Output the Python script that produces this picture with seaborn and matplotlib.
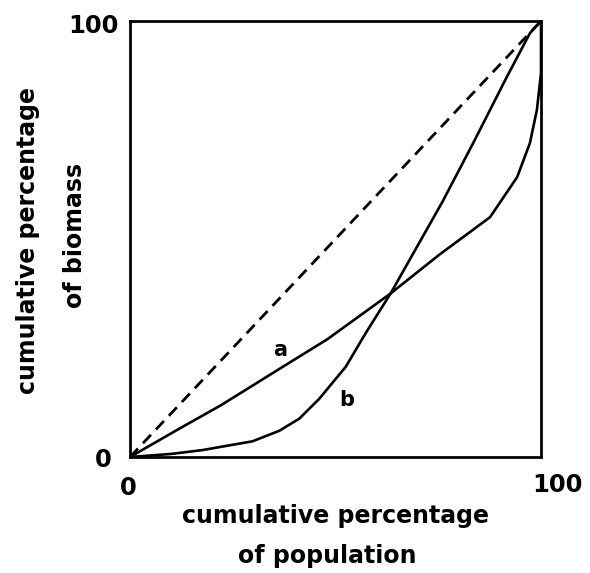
import matplotlib
matplotlib.use("Agg")
import matplotlib.pyplot as plt
import pandas as pd
import seaborn as sns

# ---- data ----
equality_x = [0, 100]
equality_y = [0, 100]

curve_a_x = [0, 12, 22, 36, 48, 63.4, 75.4, 87.6, 94.2, 97.3, 99.0, 100, 100]
curve_a_y = [0, 6.5, 11.8, 20, 27, 37.5, 46.5, 55, 64.2, 72, 79.6, 88, 100]

curve_b_x = [0, 10, 17.7, 29.8, 36.3, 41.2, 46, 52.5, 57.4, 63.4, 76, 83.5, 91.7, 97.3, 100]
curve_b_y = [0, 0.7, 1.6, 3.6, 6.0, 8.8, 13.3, 20.7, 28.5, 37.5, 58.5, 72, 87.2, 97.2, 100]

curve_labels = ["a", "b"]
label_pos_x = [36.5, 52.8]
label_pos_y = [24.5, 13.1]

x_tick_labels = ["0", "100"]
y_tick_labels = ["0", "100"]
x_title = ["cumulative percentage", "of population"]
y_title = ["cumulative percentage", "of biomass"]

sns.set_theme(style="white")
plt.rcParams['font.family'] = ['DejaVu Sans']
plt.rcParams['text.color'] = 'black'

W, H = 590, 573
fig = plt.figure(figsize=(W / 100, H / 100), dpi=100)
ax = fig.add_axes([130 / W, 1 - 457 / H, 411 / W, 436 / H])

df_eq = pd.DataFrame({"x": equality_x, "y": equality_y})
df_a = pd.DataFrame({"x": curve_a_x, "y": curve_a_y})
df_b = pd.DataFrame({"x": curve_b_x, "y": curve_b_y})

sns.lineplot(data=df_eq, x="x", y="y", ax=ax, color="black", lw=2.0,
             estimator=None, sort=False)
ax.lines[-1].set_dashes((4.2, 2.6))
sns.lineplot(data=df_a, x="x", y="y", ax=ax, color="black", lw=1.9,
             estimator=None, sort=False)
sns.lineplot(data=df_b, x="x", y="y", ax=ax, color="black", lw=1.9,
             estimator=None, sort=False)
for ln in ax.lines:
    ln.set_solid_joinstyle("round")
    ln.set_solid_capstyle("round")

for lab, lx, ly in zip(curve_labels, label_pos_x, label_pos_y):
    ax.text(lx, ly, lab, fontsize=15, fontweight="heavy", color="black",
            ha="center", va="center")

ax.set_xlim(0, 100)
ax.set_ylim(0, 100)
ax.set_xticks([])
ax.set_yticks([])
ax.set_xlabel("")
ax.set_ylabel("")
for sp in ax.spines.values():
    sp.set_visible(True)
    sp.set_color("black")
    sp.set_linewidth(2.0)


def px(x, y):
    return x / W, 1 - y / H


num_kw = dict(fontsize=17.5, fontweight="heavy", color="black", ha="center", va="center")
fig.text(*px(103, 460), y_tick_labels[0], **num_kw)
fig.text(*px(93, 26), y_tick_labels[1], **num_kw)
fig.text(*px(128, 488), x_tick_labels[0], **num_kw)
fig.text(*px(557, 485), x_tick_labels[1], **num_kw)

lab_kw = dict(fontsize=17, fontweight="heavy", color="black", ha="center")
fig.text(*px(335, 523), x_title[0], va="baseline", **lab_kw)
fig.text(*px(327, 563), x_title[1], va="baseline", **lab_kw)
fig.text(*px(28, 241), y_title[0], va="center", rotation=90, **lab_kw)
fig.text(*px(75, 235), y_title[1], va="center", rotation=90, **lab_kw)

fig.savefig("out.png", dpi=100, facecolor="white")
